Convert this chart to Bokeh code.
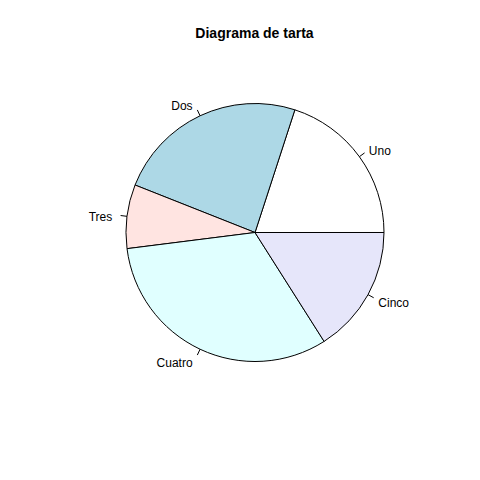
import numpy as np
from bokeh.plotting import figure
from bokeh.models import ColumnDataSource, Range1d
from bokeh.core.properties import value
from bokeh.embed import file_html
from bokeh.resources import INLINE

labels = ["Uno", "Dos", "Tres", "Cuatro", "Cinco"]
values = [10, 12, 4, 16, 8]
colors = ["white", "lightblue", "mistyrose", "lightcyan", "lavender"]
title = "Diagrama de tarta"

vals = np.array(values, dtype=float)
frac = np.cumsum(np.concatenate([[0], vals])) / vals.sum()
ang = 2 * np.pi * frac
start = ang[:-1]
end = ang[1:]
mid = (start + end) / 2
R = 0.8

src = ColumnDataSource(dict(start=start, end=end, color=colors,
                            x=[0]*len(vals), y=[0]*len(vals)))

scale = 161.25
cx, cy = 254.5, 232
p = figure(width=480, height=480, output_backend="svg", toolbar_location=None,
           x_range=Range1d(-cx/scale, (480-cx)/scale),
           y_range=Range1d(-(480-cy)/scale, cy/scale),
           min_border=0)
p.axis.visible = False
p.grid.visible = False
p.outline_line_color = None
p.background_fill_color = "white"
p.border_fill_color = "white"

p.wedge(x="x", y="y", radius=R, start_angle="start", end_angle="end",
        fill_color="color", line_color="black", line_width=1, source=src)

px = np.cos(mid)
py = np.sin(mid)
p.segment(x0=R*px, y0=R*py, x1=1.05*R*px, y1=1.05*R*py, line_color="black", line_width=1)

lsrc = ColumnDataSource(dict(x=1.1*R*px, y=1.1*R*py, text=labels,
                             align=["left" if v >= 0 else "right" for v in px],
                             xo=[-1 if v >= 0 else -2 for v in px]))
p.text(x="x", y="y", text="text", text_align="align", text_baseline="middle",
       x_offset="xo", y_offset=2,
       text_font=value("Liberation Sans"), text_font_size="12px", text_color="black",
       source=lsrc)

p.text(x=[(254 - cx)/scale], y=[(cy - 32)/scale], text=[title], text_align="center",
       text_baseline="middle", text_font=value("Liberation Sans"),
       text_font_size="14px", text_font_style="bold", text_color="black")

open("out.html", "w").write(file_html(p, INLINE))
